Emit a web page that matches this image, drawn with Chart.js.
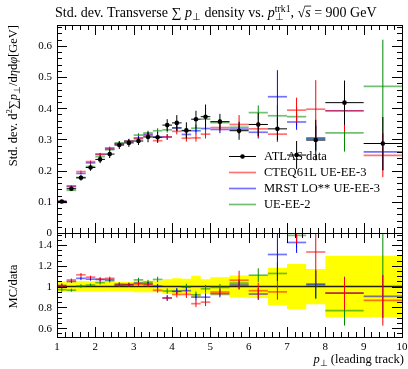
<!DOCTYPE html>
<html><head><meta charset="utf-8">
<script src="https://cdn.jsdelivr.net/npm/chart.js@4.4.1/dist/chart.umd.min.js"></script>
<style>html,body{margin:0;padding:0;background:#fff;overflow:hidden}#wrap{width:408px;height:369px;position:relative}</style>
</head><body><div id="wrap"><canvas id="c" width="408" height="369"></canvas></div>
<script>
// ---------- data ----------
const binEdges = [1,1.25,1.5,1.75,2,2.25,2.5,2.75,3,3.25,3.5,3.75,4,4.25,4.5,4.75,5,5.5,6,6.5,7,7.5,8,9,10];
const atlasVals = [0.101,0.142,0.177,0.210,0.236,0.253,0.282,0.289,0.295,0.308,0.307,0.346,0.353,0.329,0.365,0.373,0.357,0.328,0.348,0.334,0.250,0.298,0.418,0.287];
const atlasErrs = [0.005,0.007,0.009,0.0105,0.012,0.0126,0.0127,0.013,0.013,0.017,0.017,0.019,0.025,0.026,0.027,0.039,0.025,0.029,0.037,0.037,0.045,0.065,0.071,0.085];
const cteqVals = [0.1015,0.151,0.197,0.229,0.253,0.273,0.286,0.294,0.302,0.313,0.296,0.308,0.326,0.304,0.305,0.317,0.338,0.348,0.334,0.317,0.394,0.397,0.392,0.249];
const cteqErrs = [0.002,0.002,0.003,0.003,0.004,0.004,0.005,0.005,0.006,0.006,0.007,0.009,0.010,0.011,0.012,0.014,0.012,0.030,0.027,0.025,0.040,0.093,0.065,0.070];
const mrstVals = [0.102,0.149,0.191,0.225,0.252,0.270,0.286,0.294,0.305,0.316,0.308,0.308,0.337,0.316,0.328,0.335,0.332,0.333,0.323,0.437,0.356,0.305,0.392,0.260];
const mrstErrs = [0.002,0.002,0.003,0.003,0.004,0.004,0.005,0.005,0.006,0.006,0.007,0.009,0.010,0.011,0.012,0.014,0.012,0.012,0.020,0.085,0.025,0.040,0.065,0.060];
const ueVals = [0.098,0.137,0.178,0.213,0.245,0.267,0.289,0.295,0.314,0.321,0.328,0.331,0.337,0.327,0.336,0.365,0.354,0.339,0.386,0.376,0.373,0.302,0.321,0.470];
const ueErrs = [0.002,0.002,0.003,0.003,0.004,0.004,0.005,0.005,0.006,0.007,0.008,0.009,0.010,0.011,0.012,0.014,0.012,0.012,0.023,0.035,0.030,0.040,0.060,0.150];

const legendLabels = ["ATLAS data","CTEQ61L UE-EE-3","MRST LO** UE-EE-3","UE-EE-2"];
const xTickLabels = ["1","2","3","4","5","6","7","8","9","10"];
const yMainTickLabels = ["0","0.1","0.2","0.3","0.4","0.5","0.6"];
const yRatioTickLabels = ["0.6","0.8","1","1.2","1.4"];

// ---------- style ----------
const SERIF = '"Liberation Serif","Times New Roman",serif';
const RED = '#ff0000', BLUE = '#0000ff', GREEN = '#008a00', BLACK = '#000000';
const SOFT = {'#ff0000':'rgba(255,0,0,0.55)', '#0000ff':'rgba(0,0,255,0.55)', '#008a00':'rgba(0,138,0,0.55)'};

// ---------- helpers ----------
function segPoints(vals, errs, div) {
  const pts = [];
  for (let i = 0; i < vals.length; i++) {
    const lo = binEdges[i], hi = binEdges[i+1], c = (lo + hi) / 2;
    const d = div ? div[i] : 1;
    const v = vals[i] / d, e = errs[i] / d;
    pts.push({x: lo, y: v}, {x: hi, y: v}, {x: hi, y: null});
    pts.push({x: c, y: v - e}, {x: c, y: v + e}, {x: c, y: null});
  }
  return pts;
}
function bandPoints(sign) {
  const pts = [];
  for (let i = 0; i < atlasVals.length; i++) pts.push({x: binEdges[i], y: 1 + sign * atlasErrs[i] / atlasVals[i]});
  const n = atlasVals.length - 1;
  pts.push({x: binEdges[n+1], y: 1 + sign * atlasErrs[n] / atlasVals[n]});
  return pts;
}
function lineDS(data, color, yAxisID, order, width) {
  const ds = {type: 'line', data, borderColor: color, borderWidth: width || 1, pointRadius: 0, fill: false,
          spanGaps: false, tension: 0, xAxisID: 'x', yAxisID, order};
  if (SOFT[color]) {
    ds.segment = {
      borderColor: c => (c.p0.parsed.y === c.p1.parsed.y ? SOFT[color] : color),
      borderWidth: c => (c.p0.parsed.y === c.p1.parsed.y ? 1.7 : 1)
    };
  }
  return ds;
}

const datasets = [
  {type:'line', data: bandPoints(1), stepped:'after', borderWidth:0, borderColor:'rgba(0,0,0,0)', pointRadius:0,
   backgroundColor:'#ffff00', fill:'+1', xAxisID:'x', yAxisID:'yr', order:100},
  {type:'line', data: bandPoints(-1), stepped:'after', borderWidth:0, borderColor:'rgba(0,0,0,0)', pointRadius:0,
   fill:false, xAxisID:'x', yAxisID:'yr', order:99},
  lineDS([{x:1,y:1},{x:10,y:1}], '#222200', 'yr', 90, 1.5),
  lineDS(segPoints(ueVals, ueErrs, atlasVals), GREEN, 'yr', 30),
  lineDS(segPoints(mrstVals, mrstErrs, atlasVals), BLUE, 'yr', 20),
  lineDS(segPoints(cteqVals, cteqErrs, atlasVals), RED, 'yr', 10),
  lineDS(segPoints(ueVals, ueErrs), GREEN, 'y', 30),
  lineDS(segPoints(mrstVals, mrstErrs), BLUE, 'y', 20),
  lineDS(segPoints(cteqVals, cteqErrs), RED, 'y', 10),
  lineDS(segPoints(atlasVals, atlasErrs), BLACK, 'y', 2),
  {type:'line', data: atlasVals.map((v,i)=>({x:(binEdges[i]+binEdges[i+1])/2, y:v})), showLine:false,
   pointRadius:2.3, pointBackgroundColor:BLACK, pointBorderColor:BLACK, pointBorderWidth:0, xAxisID:'x', yAxisID:'y', order:1}
];

function runFont(o, size) {
  const s = (o.sub || o.sup) ? size * 0.7 : size;
  return (o.i ? 'italic ' : '') + s.toFixed(2) + 'px ' + SERIF;
}
function measureRuns(ctx, runs, size) {
  let w = 0;
  for (const [t, o] of runs) { ctx.font = runFont(o, size); if (!o.noadv) w += ctx.measureText(t).width; }
  return w;
}
function drawRuns(ctx, runs, x, y, size) {
  let cx = x;
  for (const [t, o] of runs) {
    ctx.font = runFont(o, size);
    let dy = 0;
    if (o.sub) dy = size * 0.22;
    if (o.sup) dy = -size * 0.38;
    ctx.fillText(t, cx, y + dy);
    const w = ctx.measureText(t).width;
    if (o.over) { ctx.beginPath(); ctx.lineWidth = 0.8; ctx.moveTo(cx - 0.5, y - size*0.78); ctx.lineTo(cx + w + 0.5, y - size*0.78); ctx.stroke(); }
    if (!o.noadv) cx += w;
  }
  return cx - x;
}

const titleRuns = [["Std. dev. Transverse ",{}],["\u2211 ",{}],["p",{i:1}],["\u22a5",{sub:1}],[" density vs. ",{}],
  ["p",{i:1}],["\u22a5",{sub:1,noadv:1}],["trk1",{sup:1}],[", ",{}],["\u221a",{}],["s",{i:1,over:1}],[" = 900 GeV",{}]];
const yLabelRuns = [["Std. dev. d",{}],["2",{sup:1}],["\u2211",{}],["p",{i:1}],["\u22a5",{sub:1}],["/d",{}],["\u03b7",{i:1}],["d",{}],["\u03c6",{i:1}],["[GeV]",{}]];
const xLabelRuns = [["p",{i:1}],["\u22a5",{sub:1}],[" (leading track)",{}]];

const decor = {
  id: 'decor',
  afterDatasetsDraw(chart) {
    const ctx = chart.ctx, xs = chart.scales.x, ym = chart.scales.y, yr = chart.scales.yr;
    const L = xs.left, R = xs.right;
    ctx.save();
    ctx.strokeStyle = BLACK; ctx.fillStyle = BLACK; ctx.lineWidth = 1;
    const px = v => Math.round(v) + 0.5;
    for (const ys of [ym, yr]) {
      ctx.strokeRect(px(L), px(ys.top), Math.round(R) - Math.round(L), Math.round(ys.bottom) - Math.round(ys.top));
    }
    ctx.beginPath();
    for (let k = 5; k <= 50; k++) {
      const v = k * 0.2;
      const len = (k % 5 === 0) ? 10 : 5;
      const xp = px(xs.getPixelForValue(v));
      for (const ys of [ym, yr]) {
        ctx.moveTo(xp, ys.top); ctx.lineTo(xp, ys.top + len);
        ctx.moveTo(xp, ys.bottom); ctx.lineTo(xp, ys.bottom - len);
      }
    }
    for (let k = 0; k <= 33; k++) {
      const v = k * 0.02; if (v > ym.max) continue;
      const len = (k % 5 === 0) ? 10 : 5;
      const yp = px(ym.getPixelForValue(v));
      ctx.moveTo(L, yp); ctx.lineTo(L + len, yp);
      ctx.moveTo(R, yp); ctx.lineTo(R - len, yp);
    }
    for (let k = 11; k <= 30; k++) {
      const v = k * 0.05; if (v < yr.min || v > yr.max) continue;
      const len = (k % 4 === 0) ? 10 : 5;
      const yp = px(yr.getPixelForValue(v));
      ctx.moveTo(L, yp); ctx.lineTo(L + len, yp);
      ctx.moveTo(R, yp); ctx.lineTo(R - len, yp);
    }
    ctx.stroke();

    ctx.font = '11px ' + SERIF;
    ctx.textAlign = 'right'; ctx.textBaseline = 'middle';
    yMainTickLabels.forEach(t => ctx.fillText(t, L - 5, ym.getPixelForValue(parseFloat(t)) + 0.5));
    yRatioTickLabels.forEach(t => ctx.fillText(t, L - 5, yr.getPixelForValue(parseFloat(t)) + 0.5));
    ctx.textAlign = 'center'; ctx.textBaseline = 'top';
    xTickLabels.forEach(t => ctx.fillText(t, xs.getPixelForValue(parseFloat(t)), yr.bottom + 5));

    const lx0 = 229, lx1 = 256, tx = 264;
    const rows = [156.5, 172.5, 188.5, 204.5];
    const cols = [BLACK, RED, BLUE, GREEN];
    ctx.textAlign = 'left'; ctx.textBaseline = 'middle';
    legendLabels.forEach((lab, i) => {
      ctx.strokeStyle = i === 0 ? BLACK : SOFT[cols[i]]; ctx.lineWidth = i === 0 ? 1 : 1.7;
      ctx.beginPath(); ctx.moveTo(lx0, rows[i]); ctx.lineTo(lx1, rows[i]); ctx.stroke();
      if (i === 0) { ctx.beginPath(); ctx.arc((lx0+lx1)/2, rows[i], 2.3, 0, Math.PI*2); ctx.fill(); }
      ctx.font = '12.5px ' + SERIF; ctx.fillStyle = BLACK;
      ctx.fillText(lab, tx, rows[i] + 0.5);
    });

    ctx.textAlign = 'left'; ctx.textBaseline = 'alphabetic';
    ctx.strokeStyle = BLACK; ctx.lineWidth = 0.8;
    drawRuns(ctx, titleRuns, 55, 17, 14);

    const xw = measureRuns(ctx, xLabelRuns, 12.5);
    drawRuns(ctx, xLabelRuns, 404 - xw, 363, 12.5);

    ctx.save();
    ctx.translate(17, ym.top);
    ctx.rotate(-Math.PI / 2);
    const yw = measureRuns(ctx, yLabelRuns, 12.5);
    drawRuns(ctx, yLabelRuns, -yw, 0, 12.5);
    ctx.restore();
    ctx.save();
    ctx.translate(17, yr.getPixelForValue(1));
    ctx.rotate(-Math.PI / 2);
    ctx.font = '12.5px ' + SERIF; ctx.textAlign = 'center';
    ctx.fillText('MC/data', 0, 0);
    ctx.restore();
    ctx.restore();
  }
};

const hidden = {ticks:{display:false}, grid:{display:false}, border:{display:false}};
new Chart(document.getElementById('c'), {
  type: 'line',
  data: { datasets },
  options: {
    responsive: false, animation: false, events: [],
    layout: { padding: {left: 57, right: 6, top: 25, bottom: 32} },
    plugins: { legend: {display:false}, tooltip: {enabled:false}, title: {display:false} },
    scales: {
      x: Object.assign({type:'linear', min:1, max:10, afterFit: s => { s.height = 0; }}, hidden),
      y: Object.assign({type:'linear', position:'left', min:0, max:0.667, stack:'panels', stackWeight:2, weight:1,
            afterFit: s => { s.width = 0; }}, hidden),
      yr: Object.assign({type:'linear', position:'left', min:0.515, max:1.515, stack:'panels', stackWeight:1, weight:0,
            afterFit: s => { s.width = 0; }}, hidden)
    }
  },
  plugins: [decor]
});
</script></body></html>
